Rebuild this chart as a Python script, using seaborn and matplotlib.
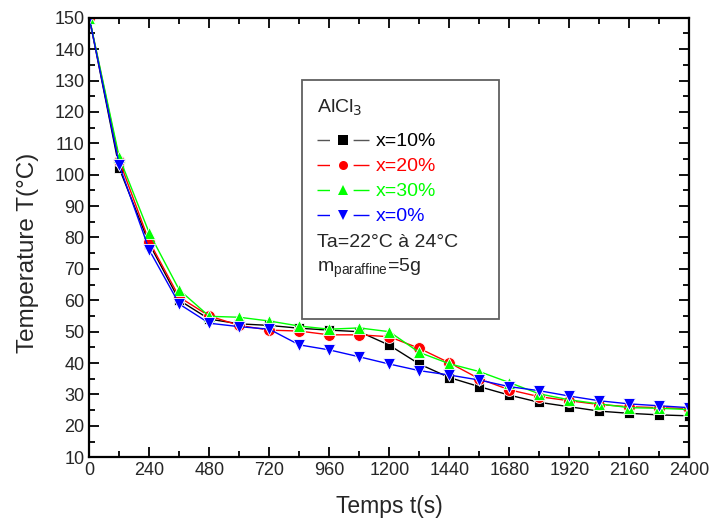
import numpy as np
import pandas as pd
import matplotlib
matplotlib.use("Agg")
import matplotlib.pyplot as plt
from matplotlib.patches import Rectangle
from matplotlib.lines import Line2D
from matplotlib.legend_handler import HandlerTuple
from matplotlib.ticker import MultipleLocator
import seaborn as sns

# time in seconds
temps = [0, 120, 240, 360, 480, 600, 720, 840, 960, 1080, 1200,
         1320, 1440, 1560, 1680, 1800, 1920, 2040, 2160, 2280, 2400]

x10 = [150, 102, 78, 60, 54, 52.5, 52, 51.1, 50.5, 50, 45.7,
       39.7, 35.4, 32.5, 29.8, 27.5, 26.1, 24.7, 24, 23.5, 23.2]
x20 = [150, 104.5, 78.7, 61, 55, 52, 50.5, 50.2, 49, 49, 48.4,
       44.7, 40.1, 35, 31.5, 29.3, 28, 26.8, 26.1, 25.8, 25.5]
x30 = [150, 105.5, 81.4, 63.3, 54.9, 54.6, 53.4, 51.8, 50.8, 51.2, 50,
       43.4, 39.8, 37.3, 33.8, 30.2, 28.3, 27, 25.8, 25.6, 25.2]
x0 = [150, 103, 76, 58.8, 52.7, 51.6, 50.8, 45.8, 44.2, 42, 39.7,
      37.6, 36.2, 34.6, 32.5, 31.2, 29.5, 28, 27, 26.4, 25.8]

labels = ["x=10%", "x=20%", "x=30%", "x=0%"]
colors = ["#000000", "#ff0000", "#00ff00", "#0000ff"]
legend_line_colors = ["#555555", "#ff0000", "#00ff00", "#0000ff"]
markers = ["s", "o", "^", "v"]
sizes = [7, 8.5, 9, 9]

sns.set_style("ticks")
plt.rcParams["font.family"] = ["Liberation Sans", "DejaVu Sans"]

fig = plt.figure(figsize=(7.12, 5.21), dpi=100)
ax = fig.add_axes([0.1254, 0.1223, 0.8427, 0.8437])

for vals, col, mk, ms in zip([x10, x20, x30, x0], colors, markers, sizes):
    sns.lineplot(x=temps, y=vals, color=col, marker=mk, markersize=ms,
                 markeredgewidth=0.6, markeredgecolor="white",
                 linewidth=1.0, ax=ax)

ax.set_xlim(0, 2400)
ax.set_ylim(10, 150)
ax.xaxis.set_major_locator(MultipleLocator(240))
ax.xaxis.set_minor_locator(MultipleLocator(120))
ax.yaxis.set_major_locator(MultipleLocator(10))
ax.yaxis.set_minor_locator(MultipleLocator(5))
ax.tick_params(which="both", direction="in", top=True, right=True,
               width=1.3, color="black", labelsize=13)
ax.tick_params(which="major", length=7)
ax.tick_params(which="minor", length=4)
for s in ax.spines.values():
    s.set_linewidth(1.6)
    s.set_color("black")

ax.set_xlabel("Temps t(s)", fontsize=16.5)
ax.set_ylabel("Temperature T(°C)", fontsize=17.5)
ax.xaxis.set_label_coords(0.5, -0.086)
ax.yaxis.set_label_coords(-0.083, 0.465)

# legend box
ax.add_patch(Rectangle((0.3545, 0.3146), 0.3285, 0.5434, transform=ax.transAxes,
                       fill=False, edgecolor="#606060", linewidth=1.3, zorder=5))
ax.text(0.379, 0.783, "AlCl$_3$", transform=ax.transAxes, fontsize=14,
        va="baseline", ha="left")

# legend keys drawn Origin-style: line broken around the symbol
proxies = []
for lc, c, mk in zip(legend_line_colors, colors, markers):
    seg = Line2D([], [], color=lc, linewidth=1.0,
                 linestyle=(0, (9, 17, 40, 1)))
    sym = Line2D([], [], color=c, marker=mk, markersize=6.5, linestyle="none",
                 markeredgewidth=0)
    proxies.append((seg, sym))
leg = ax.legend(handles=proxies, labels=labels, loc="upper left",
                bbox_to_anchor=(0.379, 0.738), frameon=False, fontsize=14,
                handlelength=2.7, handletextpad=0.35, labelspacing=0.38,
                borderpad=0, borderaxespad=0, labelcolor=colors,
                handler_map={tuple: HandlerTuple(ndivide=1, pad=0)})
ax.text(0.379, 0.479, "Ta=22°C à 24°C", transform=ax.transAxes, fontsize=14,
        va="baseline", ha="left")
ax.text(0.379, 0.422, "m$_{\\mathregular{paraffine}}$=5g", transform=ax.transAxes,
        fontsize=14, va="baseline", ha="left")

fig.savefig("out.png", dpi=100)
